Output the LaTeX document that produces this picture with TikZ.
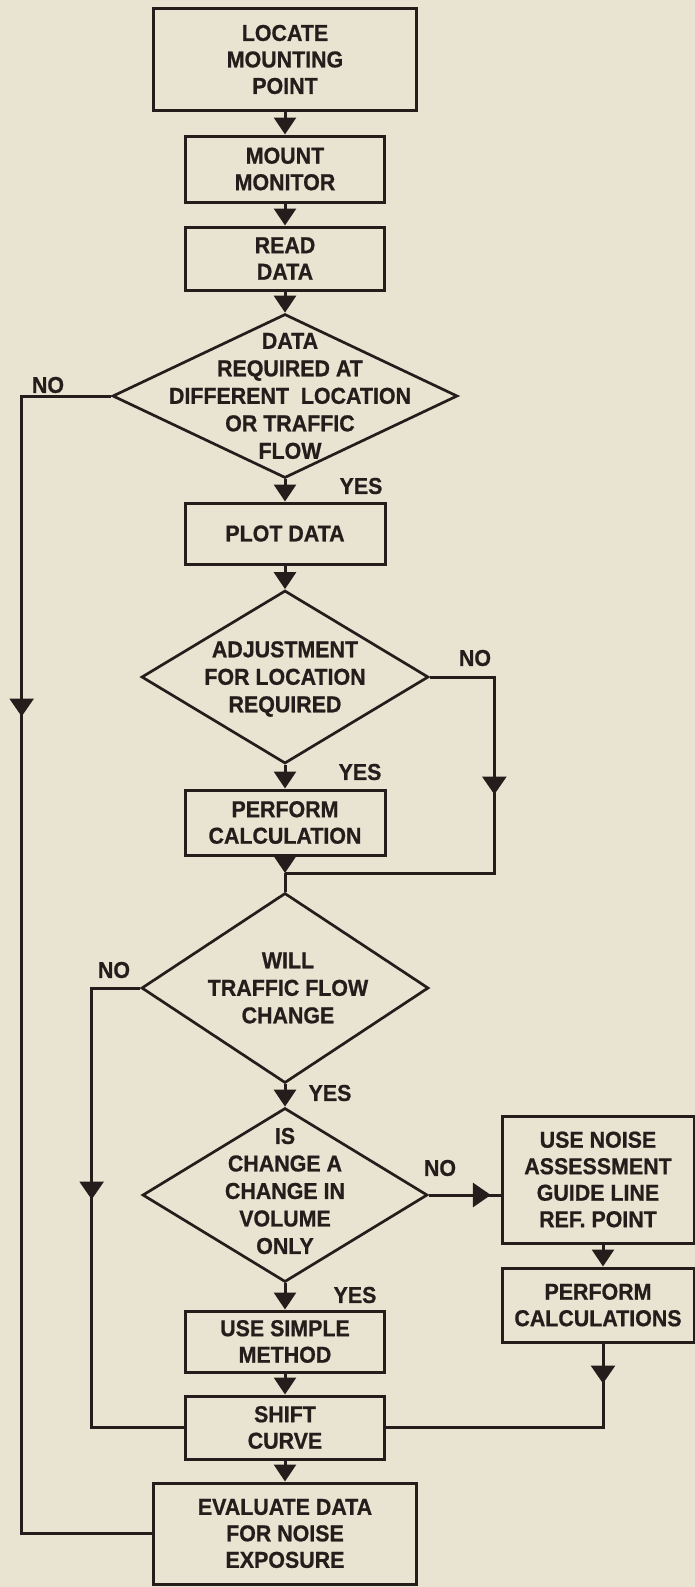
\documentclass[tikz,border=0pt]{standalone}
\usepackage{fontspec}
\setmainfont{Liberation Sans}[FakeStretch=0.93,BoldFeatures={FakeBold=0.8}]
\usetikzlibrary{shapes.geometric,arrows.meta,decorations.markings}
\definecolor{bg}{HTML}{E9E3D2}
\definecolor{ink}{HTML}{231E1B}
\begin{document}
\begin{tikzpicture}[x=1pt,y=-1pt,
  every node/.style={font=\fontsize{23}{26.5}\selectfont\bfseries, text=ink, align=center, inner sep=0pt},
  box/.style={draw=ink, line width=3pt, rectangle},
  dia/.style={draw=ink, line width=2.7pt, diamond},
  flow/.style={draw=ink, line width=3pt, -{Triangle[width=22pt,length=17pt]}},
  line/.style={draw=ink, color=ink, line width=3pt},
  midarrow/.style={postaction={decorate}, decoration={markings, mark=at position #1 with {\arrow{Triangle[width=24pt,length=18pt]}}}}
]
\fill[bg] (0,0) rectangle (695,1587);
\useasboundingbox (0,0) rectangle (695,1587);

% main column
\node[box, minimum width=263pt, minimum height=101pt] (n1) at (285,59.5) {LOCATE\\MOUNTING\\POINT};
\node[box, minimum width=199pt, minimum height=66pt] (n2) at (285,169) {MOUNT\\MONITOR};
\node[box, minimum width=199pt, minimum height=63pt] (n3) at (285,258.5) {READ\\DATA};
\node[dia, minimum width=345pt, minimum height=164pt] (d1) at (285,396) {};
\node (t1) at (290,396) {DATA\\[1pt]REQUIRED AT\\[1pt]DIFFERENT\ \ LOCATION\\[1pt]OR TRAFFIC\\[1pt]FLOW};
\node[box, minimum width=200pt, minimum height=61pt] (n4) at (285,533.5) {PLOT DATA};
\node[dia, minimum width=287pt, minimum height=173pt] (d2) at (285,677) {};
\node (t2) at (285,679) {ADJUSTMENT\\[1pt]FOR LOCATION\\[1pt]REQUIRED};
\node[box, minimum width=200pt, minimum height=65pt] (n5) at (285,822.5) {PERFORM\\CALCULATION};
\coordinate (j) at (285,873);
\node[dia, minimum width=287pt, minimum height=190pt] (d3) at (285,988) {};
\node (t3) at (288,988) {WILL\\[1pt]TRAFFIC FLOW\\[1pt]CHANGE};
\node[dia, minimum width=285pt, minimum height=174pt] (d4) at (285,1195) {};
\node (t4) at (285,1191) {IS\\[1pt]CHANGE A\\[1pt]CHANGE IN\\[1pt]VOLUME\\[1pt]ONLY};
\node[box, minimum width=199pt, minimum height=61pt] (n8) at (285,1341.5) {USE SIMPLE\\METHOD};
\node[box, minimum width=199pt, minimum height=63pt] (n9) at (285,1427.5) {SHIFT\\CURVE};
\node[box, minimum width=263pt, minimum height=101pt] (n10) at (285,1533.5) {EVALUATE DATA\\FOR NOISE\\EXPOSURE};

% right column
\node[box, minimum width=192pt, minimum height=127pt] (n6) at (598,1179.5) {USE NOISE\\ASSESSMENT\\GUIDE LINE\\REF. POINT};
\node[box, minimum width=192pt, minimum height=74pt] (n7) at (598,1305) {PERFORM\\CALCULATIONS};

% labels
\node (no1) at (48,385) {NO};
\node (yes1) at (361,486) {YES};
\node (no2) at (475,658) {NO};
\node (yes2) at (360,772) {YES};
\node (no3) at (114,970) {NO};
\node (yes3) at (330,1093) {YES};
\node (no4) at (440,1168) {NO};
\node (yes4) at (355,1295) {YES};

% connectors
\draw[flow] (n1) -- (n2);
\draw[flow] (n2) -- (n3);
\draw[flow] (n3) -- (d1);
\draw[flow] (d1) -- (n4);
\draw[flow] (n4) -- (d2);
\draw[flow] (d2) -- (n5);
\draw[flow] (n5) -- (j);
\draw[line] (j) -- (d3);
\draw[flow] (d3) -- (d4);
\draw[flow] (d4) -- (n8);
\draw[flow] (n8) -- (n9);
\draw[flow] (n9) -- (n10);
\draw[flow] ([xshift=5pt]n6.south) -- ([xshift=5pt]n7.north);

\draw[line, midarrow=410pt] (d1.west) -- ++(-89.5,0) |- (n10.west);
\draw[line, midarrow=182pt] (d2.east) -- ++(64.5,0) |- (j);
\draw[line, midarrow=260pt] (d3.west) -- ++(-48.5,0) |- (n9.west);
\draw[line, midarrow=62pt] (d4.east) -- (d4.east -| n6.west);
\draw[line, midarrow=40pt] ([xshift=5pt]n7.south) |- (n9.east);
\end{tikzpicture}
\end{document}
